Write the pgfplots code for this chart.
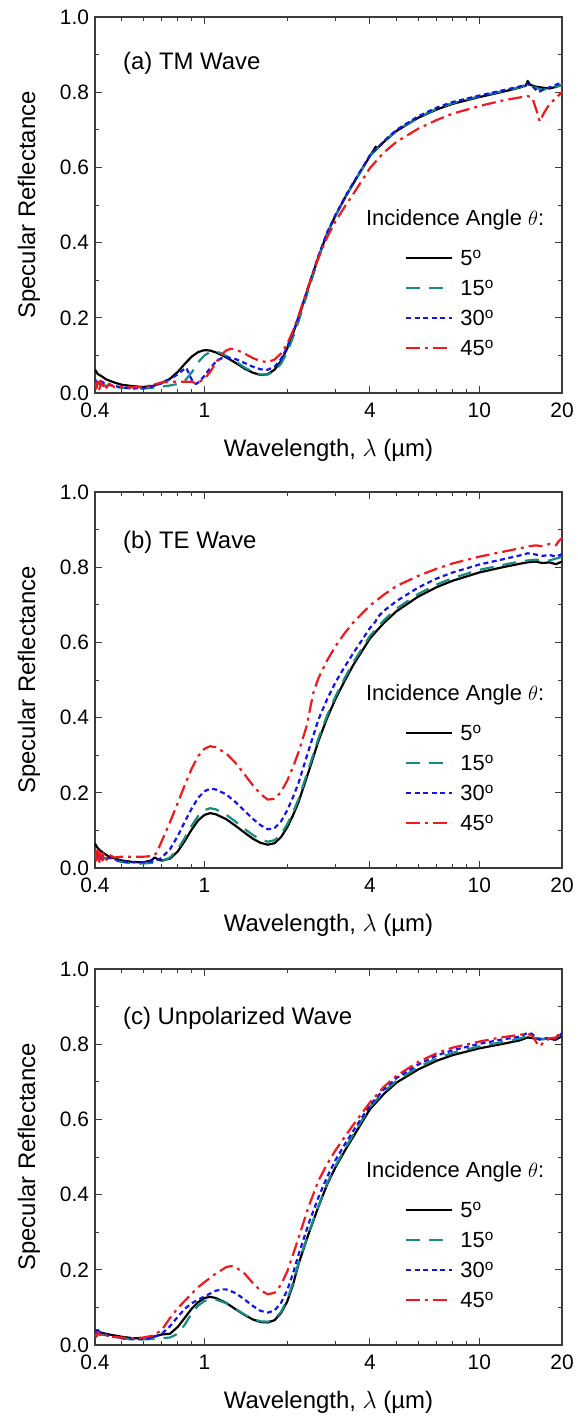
\documentclass[border=0pt]{standalone}
\usepackage{fontspec}
\setmainfont{Liberation Sans}
\usepackage{pgfplots}
\pgfplotsset{compat=1.18}

\definecolor{cteal}{RGB}{25,140,130}
\definecolor{cblue}{RGB}{20,20,235}
\definecolor{cred}{RGB}{240,25,30}
\definecolor{axgray}{RGB}{60,60,60}

\tikzset{
  s5/.style={black, line width=2.2bp, solid, line join=round},
  s15/.style={cteal, line width=2.2bp, dash pattern=on 14bp off 9bp, line join=round},
  s30/.style={cblue, line width=2.2bp, dash pattern=on 5bp off 3.5bp, line join=round},
  s45/.style={cred, line width=2.2bp, dash pattern=on 14bp off 5bp on 3bp off 5bp, line join=round},
}

% shared settings of the three panels
\pgfplotsset{
  scale only axis, width=467bp, height=376bp,
  xmin=0.4, xmax=20, ymin=0, ymax=1,
  xtick={0.4,1,4,10,20}, xticklabels={0.4,1,4,10,20},
  minor xtick={0.5,0.6,0.7,0.8,0.9,2,3,5,6,7,8,9},
  ytick={0,0.2,0.4,0.6,0.8,1.0},
  minor ytick={0.1,0.3,0.5,0.7,0.9},
  yticklabel style={/pgf/number format/fixed, /pgf/number format/fixed zerofill, /pgf/number format/precision=1},
  /pgf/number format/assume math mode=true,
  tick align=inside,
  major tick length=7bp, minor tick length=4bp,
  every tick/.style={axgray, line width=1bp},
  axis line style={axgray, line width=1.3bp},
  ticklabel style={font=\fontsize{21}{24}\selectfont},
  xticklabel style={anchor=center, yshift=-17bp},
  yticklabel style={anchor=east, xshift=-2.5bp},
  every axis x label/.style={at={(axis description cs:0.5,-0.1516)}, anchor=center,
    font=\fontsize{24}{28}\selectfont},
  every axis y label/.style={at={(axis description cs:-0.1413,0.5)}, anchor=center, rotate=90,
    font=\fontsize{24}{28}\selectfont},
  legend cell align=left,
  legend style={at={(0.664,0.379)}, anchor=north west, draw=none, fill=none,
    inner sep=0pt, row sep=15bp, column sep=7bp,
    font=\fontsize{22}{26}\selectfont,
    nodes={inner sep=0pt, text height=15bp, text depth=0bp}},
  legend image code/.code={\draw[#1] (0bp,0bp) -- (46bp,0bp);},
}

\newcommand{\legtitle}{\node[anchor=west, inner sep=0pt, font=\fontsize{22}{26}\selectfont] at (rel axis cs:0.58,0.46) {Incidence Angle $\theta$:};}

\begin{document}
\begin{tikzpicture}
\useasboundingbox (0,0) rectangle (578bp,-1424bp);

% (a) TM
\begin{axis}[xmode=log, at={(95bp,-393bp)}, anchor=south west,
  xlabel={Wavelength, $\lambda$ (µm)}, ylabel={Specular Reflectance}]
\addplot[s5] coordinates {(0.40,0.062)(0.41,0.050)(0.42,0.046)(0.44,0.036)(0.47,0.028)(0.50,0.022)(0.55,0.018)(0.60,0.016)(0.65,0.019)(0.70,0.027)(0.75,0.038)(0.80,0.056)(0.85,0.078)(0.90,0.097)(0.95,0.109)(1.00,0.114)(1.05,0.113)(1.10,0.108)(1.15,0.102)(1.20,0.095)(1.30,0.080)(1.40,0.065)(1.50,0.054)(1.60,0.048)(1.70,0.050)(1.80,0.062)(1.90,0.085)(2.00,0.118)(2.10,0.158)(2.20,0.200)(2.40,0.285)(2.60,0.362)(2.80,0.425)(3.00,0.472)(3.25,0.520)(3.50,0.560)(4.00,0.630)(4.15,0.648)(4.20,0.655)(4.25,0.650)(4.50,0.668)(5.00,0.697)(6.00,0.732)(7.00,0.754)(8.00,0.769)(10.0,0.787)(12.0,0.800)(14.0,0.812)(14.8,0.818)(15.0,0.830)(15.3,0.820)(16.0,0.815)(17.0,0.812)(18.0,0.810)(19.0,0.814)(20.0,0.820)};
\addlegendentry{5\textsuperscript{o}}
\addplot[s15] coordinates {(0.40,0.030)(0.42,0.022)(0.45,0.018)(0.50,0.014)(0.55,0.012)(0.60,0.012)(0.65,0.014)(0.70,0.017)(0.75,0.020)(0.80,0.024)(0.85,0.033)(0.90,0.055)(0.95,0.082)(1.00,0.100)(1.05,0.109)(1.10,0.110)(1.15,0.106)(1.20,0.099)(1.30,0.084)(1.40,0.068)(1.50,0.056)(1.60,0.049)(1.70,0.049)(1.80,0.058)(1.90,0.078)(2.00,0.108)(2.10,0.148)(2.20,0.190)(2.40,0.278)(2.60,0.358)(2.80,0.424)(3.00,0.471)(3.25,0.520)(3.50,0.560)(4.00,0.630)(4.50,0.668)(5.00,0.698)(6.00,0.733)(7.00,0.756)(8.00,0.771)(10.0,0.789)(12.0,0.802)(14.0,0.813)(15.0,0.822)(16.0,0.812)(17.0,0.806)(18.0,0.810)(20.0,0.820)};
\addlegendentry{15\textsuperscript{o}}
\addplot[s30] coordinates {(0.40,0.036)(0.41,0.025)(0.42,0.032)(0.44,0.022)(0.47,0.019)(0.50,0.015)(0.55,0.012)(0.60,0.013)(0.65,0.018)(0.70,0.026)(0.75,0.037)(0.80,0.050)(0.84,0.062)(0.86,0.067)(0.88,0.050)(0.90,0.035)(0.93,0.024)(0.96,0.030)(1.00,0.046)(1.05,0.066)(1.10,0.083)(1.15,0.092)(1.20,0.095)(1.30,0.090)(1.40,0.080)(1.50,0.070)(1.60,0.063)(1.70,0.062)(1.80,0.070)(1.90,0.090)(2.00,0.122)(2.10,0.160)(2.20,0.202)(2.40,0.288)(2.60,0.365)(2.80,0.428)(3.00,0.474)(3.25,0.522)(3.50,0.562)(4.00,0.632)(4.50,0.670)(5.00,0.700)(6.00,0.736)(7.00,0.759)(8.00,0.774)(10.0,0.791)(12.0,0.804)(14.0,0.815)(15.0,0.822)(15.8,0.812)(16.4,0.800)(17.0,0.806)(18.0,0.813)(20.0,0.826)};
\addlegendentry{30\textsuperscript{o}}
\addplot[s45] coordinates {(0.400,0.030)(0.405,0.012)(0.410,0.038)(0.415,0.010)(0.420,0.033)(0.425,0.012)(0.430,0.028)(0.440,0.014)(0.450,0.025)(0.470,0.016)(0.500,0.016)(0.550,0.015)(0.600,0.016)(0.650,0.022)(0.700,0.028)(0.750,0.030)(0.800,0.030)(0.850,0.030)(0.900,0.030)(0.930,0.026)(0.960,0.030)(1.000,0.038)(1.050,0.056)(1.100,0.080)(1.150,0.101)(1.200,0.113)(1.250,0.118)(1.300,0.116)(1.400,0.105)(1.500,0.093)(1.600,0.085)(1.700,0.082)(1.800,0.089)(1.900,0.105)(2.000,0.130)(2.100,0.165)(2.200,0.205)(2.400,0.288)(2.600,0.360)(2.800,0.415)(3.000,0.457)(3.250,0.497)(3.500,0.532)(4.000,0.598)(4.500,0.640)(5.000,0.668)(6.000,0.703)(7.000,0.726)(8.000,0.743)(10.00,0.763)(12.00,0.777)(14.00,0.786)(15.00,0.790)(15.60,0.785)(16.10,0.755)(16.60,0.722)(17.20,0.745)(18.00,0.768)(19.00,0.785)(20.00,0.800)};
\addlegendentry{45\textsuperscript{o}}
\node[anchor=west, inner sep=0pt, font=\fontsize{24}{28}\selectfont] at (rel axis cs:0.06,0.878) {(a) TM Wave};
\legtitle
\end{axis}

% (b) TE
\begin{axis}[xmode=log, at={(95bp,-868bp)}, anchor=south west,
  xlabel={Wavelength, $\lambda$ (µm)}, ylabel={Specular Reflectance}]
\addplot[s5] coordinates {(0.40,0.065)(0.41,0.052)(0.42,0.045)(0.45,0.030)(0.50,0.020)(0.55,0.016)(0.60,0.015)(0.64,0.020)(0.66,0.028)(0.68,0.022)(0.70,0.020)(0.75,0.025)(0.80,0.044)(0.85,0.073)(0.90,0.103)(0.95,0.127)(1.00,0.141)(1.05,0.146)(1.10,0.143)(1.20,0.130)(1.30,0.112)(1.40,0.094)(1.50,0.078)(1.60,0.067)(1.70,0.062)(1.80,0.066)(1.90,0.082)(2.00,0.108)(2.10,0.140)(2.20,0.175)(2.40,0.258)(2.60,0.338)(2.80,0.400)(3.00,0.450)(3.25,0.500)(3.50,0.543)(4.00,0.610)(4.20,0.628)(4.50,0.652)(5.00,0.683)(6.00,0.722)(7.00,0.747)(8.00,0.764)(10.0,0.786)(12.0,0.799)(14.0,0.809)(15.0,0.813)(16.0,0.815)(17.0,0.811)(18.0,0.813)(19.0,0.808)(20.0,0.815)};
\addlegendentry{5\textsuperscript{o}}
\addplot[s15] coordinates {(0.40,0.040)(0.42,0.030)(0.45,0.024)(0.50,0.016)(0.55,0.012)(0.60,0.012)(0.65,0.014)(0.70,0.018)(0.75,0.028)(0.80,0.050)(0.85,0.081)(0.90,0.113)(0.95,0.139)(1.00,0.154)(1.05,0.159)(1.10,0.156)(1.20,0.142)(1.30,0.123)(1.40,0.104)(1.50,0.088)(1.60,0.076)(1.70,0.070)(1.80,0.074)(1.90,0.090)(2.00,0.116)(2.10,0.148)(2.20,0.183)(2.40,0.266)(2.60,0.345)(2.80,0.407)(3.00,0.457)(3.25,0.507)(3.50,0.550)(4.00,0.617)(4.50,0.659)(5.00,0.690)(6.00,0.729)(7.00,0.754)(8.00,0.771)(10.0,0.793)(12.0,0.805)(14.0,0.815)(15.0,0.818)(16.0,0.820)(18.0,0.818)(19.5,0.825)(20.0,0.830)};
\addlegendentry{15\textsuperscript{o}}
\addplot[s30] coordinates {(0.40,0.045)(0.405,0.022)(0.41,0.042)(0.415,0.020)(0.42,0.038)(0.43,0.020)(0.45,0.027)(0.50,0.018)(0.55,0.015)(0.60,0.015)(0.65,0.018)(0.68,0.022)(0.70,0.028)(0.75,0.050)(0.80,0.085)(0.85,0.124)(0.90,0.159)(0.95,0.187)(1.00,0.204)(1.05,0.211)(1.10,0.209)(1.20,0.196)(1.30,0.175)(1.40,0.152)(1.50,0.131)(1.60,0.114)(1.70,0.103)(1.80,0.106)(1.90,0.124)(2.00,0.153)(2.10,0.188)(2.20,0.226)(2.40,0.315)(2.60,0.395)(2.80,0.450)(3.00,0.494)(3.25,0.537)(3.50,0.574)(4.00,0.638)(4.20,0.656)(4.25,0.666)(4.50,0.684)(5.00,0.710)(6.00,0.746)(7.00,0.770)(8.00,0.786)(10.0,0.807)(12.0,0.820)(14.0,0.831)(15.0,0.837)(16.0,0.834)(17.0,0.830)(18.0,0.833)(19.0,0.828)(20.0,0.835)};
\addlegendentry{30\textsuperscript{o}}
\addplot[s45] coordinates {(0.400,0.050)(0.405,0.020)(0.410,0.055)(0.415,0.016)(0.420,0.045)(0.425,0.020)(0.430,0.040)(0.440,0.022)(0.450,0.035)(0.470,0.028)(0.500,0.030)(0.550,0.030)(0.600,0.030)(0.650,0.032)(0.670,0.040)(0.700,0.072)(0.750,0.122)(0.800,0.173)(0.850,0.222)(0.900,0.265)(0.950,0.298)(1.000,0.317)(1.050,0.324)(1.100,0.321)(1.200,0.305)(1.300,0.279)(1.400,0.249)(1.500,0.220)(1.600,0.197)(1.700,0.182)(1.800,0.184)(1.900,0.202)(2.000,0.232)(2.100,0.268)(2.200,0.308)(2.350,0.375)(2.450,0.440)(2.500,0.470)(2.600,0.505)(2.800,0.553)(3.000,0.590)(3.250,0.626)(3.500,0.655)(4.000,0.698)(4.500,0.727)(5.000,0.750)(6.000,0.777)(7.000,0.796)(8.000,0.810)(10.00,0.828)(12.00,0.840)(14.00,0.850)(15.00,0.855)(16.00,0.858)(17.00,0.856)(18.00,0.862)(19.00,0.858)(19.50,0.870)(20.00,0.878)};
\addlegendentry{45\textsuperscript{o}}
\node[anchor=west, inner sep=0pt, font=\fontsize{24}{28}\selectfont] at (rel axis cs:0.06,0.866) {(b) TE Wave};
\legtitle
\end{axis}

% (c) unpolarized
\begin{axis}[xmode=log, at={(95bp,-1345bp)}, anchor=south west,
  xlabel={Wavelength, $\lambda$ (µm)}, ylabel={Specular Reflectance}]
\addplot[s5] coordinates {(0.40,0.040)(0.42,0.033)(0.45,0.028)(0.50,0.022)(0.55,0.018)(0.60,0.018)(0.65,0.022)(0.70,0.028)(0.75,0.030)(0.80,0.048)(0.85,0.073)(0.90,0.097)(0.95,0.114)(1.00,0.125)(1.05,0.128)(1.10,0.125)(1.20,0.112)(1.30,0.095)(1.40,0.080)(1.50,0.068)(1.60,0.061)(1.70,0.060)(1.80,0.066)(1.90,0.085)(2.00,0.115)(2.10,0.160)(2.20,0.215)(2.40,0.298)(2.60,0.368)(2.80,0.428)(3.00,0.473)(3.25,0.518)(3.50,0.557)(4.00,0.627)(4.50,0.668)(5.00,0.698)(6.00,0.733)(7.00,0.756)(8.00,0.771)(10.0,0.789)(12.0,0.800)(14.0,0.810)(15.0,0.818)(16.0,0.815)(17.0,0.814)(18.0,0.815)(19.0,0.812)(20.0,0.822)};
\addlegendentry{5\textsuperscript{o}}
\addplot[s15] coordinates {(0.40,0.030)(0.45,0.025)(0.50,0.018)(0.55,0.015)(0.60,0.015)(0.65,0.016)(0.70,0.018)(0.75,0.020)(0.80,0.030)(0.85,0.055)(0.90,0.085)(0.95,0.105)(1.00,0.117)(1.05,0.122)(1.10,0.121)(1.20,0.111)(1.30,0.096)(1.40,0.081)(1.50,0.069)(1.60,0.063)(1.70,0.062)(1.80,0.069)(1.90,0.088)(2.00,0.120)(2.10,0.165)(2.20,0.218)(2.40,0.300)(2.60,0.370)(2.80,0.431)(3.00,0.477)(3.25,0.523)(3.50,0.563)(4.00,0.633)(4.50,0.674)(5.00,0.703)(6.00,0.739)(7.00,0.762)(8.00,0.777)(10.0,0.794)(12.0,0.805)(14.0,0.815)(15.0,0.822)(16.0,0.816)(17.0,0.813)(18.0,0.815)(20.0,0.825)};
\addlegendentry{15\textsuperscript{o}}
\addplot[s30] coordinates {(0.40,0.042)(0.405,0.030)(0.41,0.040)(0.42,0.030)(0.45,0.025)(0.50,0.018)(0.55,0.015)(0.60,0.015)(0.65,0.020)(0.70,0.030)(0.75,0.050)(0.80,0.075)(0.85,0.097)(0.90,0.111)(0.95,0.121)(1.00,0.129)(1.05,0.137)(1.10,0.144)(1.15,0.148)(1.20,0.148)(1.30,0.138)(1.40,0.121)(1.50,0.104)(1.60,0.091)(1.70,0.086)(1.80,0.092)(1.90,0.112)(2.00,0.145)(2.10,0.190)(2.20,0.240)(2.40,0.325)(2.60,0.393)(2.80,0.448)(3.00,0.492)(3.25,0.535)(3.50,0.572)(4.00,0.638)(4.50,0.680)(5.00,0.710)(6.00,0.746)(7.00,0.770)(8.00,0.784)(10.0,0.801)(12.0,0.812)(14.0,0.820)(15.0,0.830)(15.5,0.828)(16.5,0.812)(17.5,0.816)(18.5,0.810)(19.5,0.820)(20.0,0.830)};
\addlegendentry{30\textsuperscript{o}}
\addplot[s45] coordinates {(0.400,0.032)(0.405,0.022)(0.410,0.035)(0.420,0.024)(0.430,0.030)(0.450,0.022)(0.500,0.020)(0.550,0.018)(0.600,0.020)(0.650,0.025)(0.700,0.040)(0.750,0.072)(0.800,0.098)(0.850,0.118)(0.900,0.137)(0.950,0.154)(1.000,0.167)(1.100,0.190)(1.200,0.207)(1.250,0.210)(1.300,0.207)(1.400,0.190)(1.500,0.165)(1.600,0.145)(1.700,0.135)(1.800,0.139)(1.900,0.160)(2.000,0.195)(2.100,0.240)(2.200,0.285)(2.400,0.370)(2.600,0.437)(2.800,0.482)(3.000,0.518)(3.250,0.555)(3.500,0.588)(4.000,0.645)(4.500,0.687)(5.000,0.716)(6.000,0.753)(7.000,0.776)(8.000,0.791)(10.00,0.807)(12.00,0.818)(14.00,0.825)(15.00,0.828)(15.60,0.822)(16.30,0.800)(16.70,0.795)(17.20,0.808)(18.00,0.815)(19.00,0.818)(20.00,0.835)};
\addlegendentry{45\textsuperscript{o}}
\node[anchor=west, inner sep=0pt, font=\fontsize{24}{28}\selectfont] at (rel axis cs:0.06,0.87) {(c) Unpolarized Wave};
\legtitle
\end{axis}
\end{tikzpicture}
\end{document}
